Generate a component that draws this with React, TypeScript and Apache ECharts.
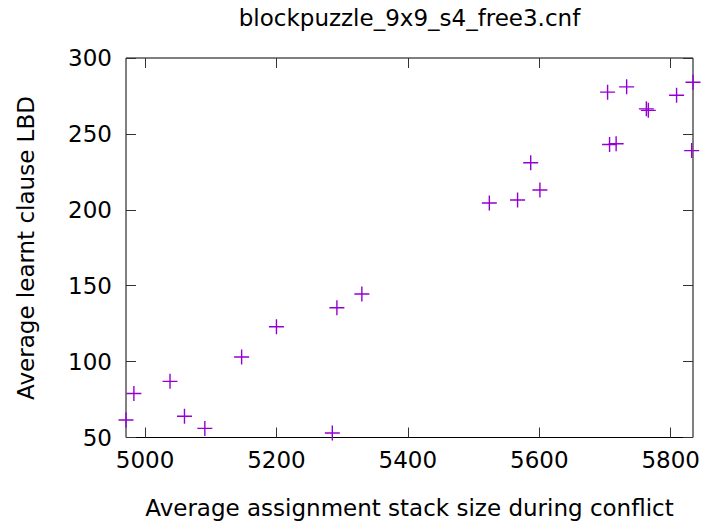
import React, { useEffect, useRef } from "react";
import * as echarts from "echarts";

const chartTitle = "blockpuzzle_9x9_s4_free3.cnf";
const xAxisTitle = "Average assignment stack size during conflict";
const yAxisTitle = "Average learnt clause LBD";

const stackSize = [4971, 4983, 5038, 5060, 5091, 5147, 5200, 5285, 5292, 5330, 5524, 5567, 5601, 5587, 5704, 5733, 5707, 5717, 5763, 5766, 5809, 5834, 5832];
const learntLBD = [61.5, 79, 87, 64, 56, 103, 123, 53, 135.5, 144.5, 204.5, 206.5, 213, 231, 277.5, 281, 243, 243.5, 266.5, 265.5, 275.5, 284, 239];

const xTicks = [5000, 5200, 5400, 5600, 5800];
const yTicks = [50, 100, 150, 200, 250, 300];
const xMin = 4971;
const xMax = 5834;
const yMin = 50;
const yMax = 300;

const FONT = "DejaVu Sans";
const FS = 23;
const PURPLE = "#9400D3";
const plusSymbol = "path://M6.8,0 H8.2 V6.8 H15 V8.2 H8.2 V15 H6.8 V8.2 H0 V6.8 H6.8 Z";

export default function App() {
  const ref = useRef<HTMLDivElement>(null);
  useEffect(() => {
    if (!ref.current) return;
    const chart = echarts.init(ref.current, null, { renderer: "svg" });
    const gridLeft = 126, gridRight = 13, gridTop = 58, gridBottom = 87.5;
    const tickCommon = { show: true, inside: true, length: 10, lineStyle: { color: "#333", width: 1 } };
    const fmt = (v: number) => String(v);
    chart.setOption({
      animation: false,
      backgroundColor: "#fff",
      grid: {
        left: gridLeft, right: gridRight, top: gridTop, bottom: gridBottom,
        show: true, borderColor: "#000", borderWidth: 1, backgroundColor: "transparent",
      },
      xAxis: [
        {
          type: "value", min: xMin, max: xMax, position: "bottom",
          axisLine: { show: false },
          splitLine: { show: false },
          axisTick: { ...tickCommon, customValues: xTicks },
          axisLabel: { customValues: xTicks, formatter: fmt, fontFamily: FONT, fontSize: FS, color: "#000", margin: 11 },
        },
        {
          type: "value", min: xMin, max: xMax, position: "top",
          axisLine: { show: false },
          splitLine: { show: false },
          axisTick: { ...tickCommon, customValues: xTicks },
          axisLabel: { show: false },
        },
      ],
      yAxis: [
        {
          type: "value", min: yMin, max: yMax, interval: 50, position: "left",
          axisLine: { show: false },
          splitLine: { show: false },
          axisTick: { ...tickCommon, customValues: yTicks },
          axisLabel: { customValues: yTicks, formatter: fmt, fontFamily: FONT, fontSize: FS, color: "#000", margin: 14 },
        },
        {
          type: "value", min: yMin, max: yMax, interval: 50, position: "right",
          axisLine: { show: false },
          splitLine: { show: false },
          axisTick: { ...tickCommon, customValues: yTicks },
          axisLabel: { show: false },
        },
      ],
      series: [
        {
          type: "scatter",
          xAxisIndex: 0,
          yAxisIndex: 0,
          data: stackSize.map((x, i) => [x, learntLBD[i]]),
          symbol: plusSymbol,
          symbolSize: 15,
          itemStyle: { color: PURPLE, opacity: 1 },
          clip: false,
        },
      ],
      graphic: [
        {
          type: "text", x: 409.5, y: 18,
          style: { text: chartTitle, fontFamily: FONT, fontSize: FS, fill: "#000", textAlign: "center", textVerticalAlign: "middle" },
        },
        {
          type: "text", x: 409.5, y: 508,
          style: { text: xAxisTitle, fontFamily: FONT, fontSize: FS, fill: "#000", textAlign: "center", textVerticalAlign: "middle" },
        },
        {
          type: "text", x: 26, y: 248, rotation: Math.PI / 2,
          style: { text: yAxisTitle, fontFamily: FONT, fontSize: FS, fill: "#000", textAlign: "center", textVerticalAlign: "middle" },
        },
      ],
    });
    return () => chart.dispose();
  }, []);
  return <div ref={ref} style={{ width: 706, height: 525, position: "absolute", left: 0, top: 0 }} />;
}
